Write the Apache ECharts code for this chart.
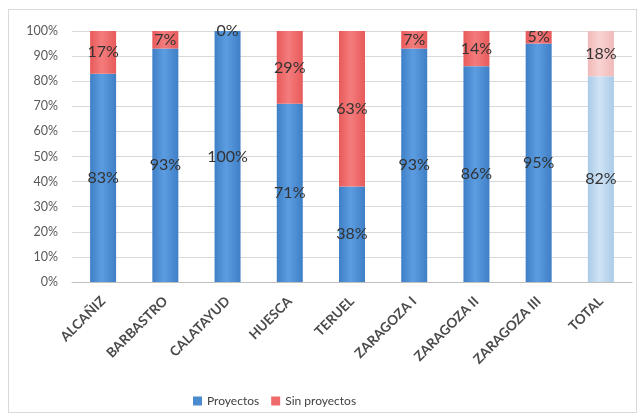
<!DOCTYPE html>
<html>
<head>
<meta charset="utf-8">
<script src="https://cdn.jsdelivr.net/npm/echarts@6/dist/echarts.min.js"></script>
<style>
html,body{margin:0;padding:0;background:#fff;}
#frame{position:absolute;left:8px;top:9px;width:629px;height:404px;border:1px solid #d9d9d9;box-sizing:border-box;}
#c{width:641px;height:417px;position:absolute;left:0;top:0;}
</style>
</head>
<body>
<div id="frame"></div>
<div id="c"></div>
<script>
var categories = ['ALCAÑIZ','BARBASTRO','CALATAYUD','HUESCA','TERUEL','ZARAGOZA I','ZARAGOZA II','ZARAGOZA III','TOTAL'];
var proyectos = [83, 93, 100, 71, 38, 93, 86, 95, 82];
var sinProyectos = [17, 7, 0, 29, 63, 7, 14, 5, 18];
var yTicks = [0,10,20,30,40,50,60,70,80,90,100];

function grad(edge, mid){
  return new echarts.graphic.LinearGradient(0,0,1,0,[
    {offset:0,color:edge},{offset:0.45,color:mid},{offset:1,color:edge}
  ]);
}
var blue = grad('#3f7fc6','#5c9ce0');
var red = grad('#e85a5a','#f47c7c');
var blueL = grad('#aacbe8','#cfe3f5');
var redL = grad('#f1b9b9','#f9d3d3');

function mk(arr, normal, light){
  return arr.map(function(v,i){
    return {value:v, itemStyle:{color: i===arr.length-1 ? light : normal}};
  });
}

var chart = echarts.init(document.getElementById('c'), null, {renderer:'canvas'});
var lbl = {show:true, position:'inside', formatter:'{c}%', color:'#333333', fontSize:16, fontFamily:'Lato'};
chart.setOption({
  animation:false,
  grid:{left:72, right:9, top:31, bottom:135, containLabel:false},
  legend:{
    top:390, left:188, itemWidth:9, itemHeight:9, itemGap:12,
    icon:'rect',
    textStyle:{fontSize:12, color:'#404040', fontFamily:'Lato'},
    data:['Proyectos','Sin proyectos']
  },
  xAxis:{
    type:'category', data:categories,
    axisLine:{lineStyle:{color:'#bfbfbf'}},
    axisTick:{show:false},
    axisLabel:{rotate:45, fontSize:13.5, fontWeight:'bold', color:'#4a4a4a', fontFamily:'Lato', interval:0, margin:17}
  },
  yAxis:{
    type:'value', min:0, max:100, interval:10,
    axisLabel:{formatter:function(v){return yTicks.indexOf(v)>=0 ? v+'%' : '';}, fontSize:12.5, color:'#595959', fontFamily:'Lato', margin:14},
    splitLine:{lineStyle:{color:'#d9d9d9'}},
    axisLine:{show:false}, axisTick:{show:false}
  },
  series:[
    {name:'Proyectos', type:'bar', stack:'a', barWidth:26, data:mk(proyectos, blue, blueL), label:lbl, itemStyle:{color:'#4a8bd0'}},
    {name:'Sin proyectos', type:'bar', stack:'a', barWidth:26, data:mk(sinProyectos, red, redL), label:lbl, itemStyle:{color:'#ef6b6b'}}
  ]
});
</script>
</body>
</html>
